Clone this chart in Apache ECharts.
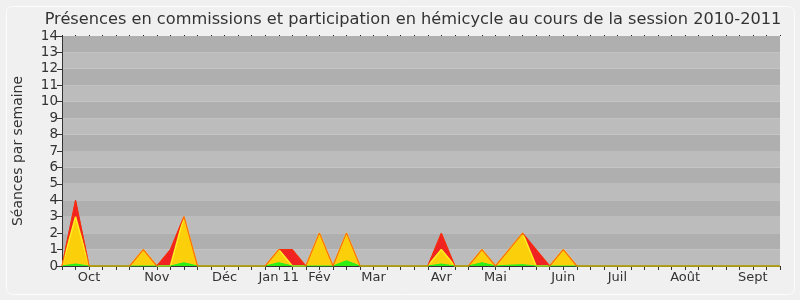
<!DOCTYPE html>
<html>
<head>
<meta charset="utf-8">
<script src="https://cdn.jsdelivr.net/npm/echarts@6/dist/echarts.min.js"></script>
<style>
html,body{margin:0;padding:0;background:#f0f0f0;}
#c{width:800px;height:300px;}
</style>
</head>
<body>
<div id="c"></div>
<script>
// Weekly values, session 2010-2011 (54 weeks)
const monthLabels = {2:'Oct',7:'Nov',12:'Déc',16:'Jan 11',19:'Fév',23:'Mar',28:'Avr',32:'Mai',37:'Juin',41:'Juil',46:'Août',51:'Sept'};
const weeks = Array.from({length:54}, (_, i) => monthLabels[i] || '');
const totalSeances = [0,4,0,0,0,0,1,0,1,3, 0,0,0,0,0,0,1,1,0,2, 0,2,0,0,0,0,0,0,2,0, 0,1,0,1,2,1,0,1,0,0, 0,0,0,0,0,0,0,0,0,0, 0,0,0,0];
const hemicycle    = [0,3,0,0,0,0,1,0,0,3, 0,0,0,0,0,0,1,0,0,2, 0,2,0,0,0,0,0,0,1,0, 0,1,0,1,2,0,0,1,0,0, 0,0,0,0,0,0,0,0,0,0, 0,0,0,0];
const commissions  = [0,0.12,0,0,0,0,0,0,0,0.2, 0,0,0,0,0,0,0.2,0,0,0, 0,0.32,0,0,0,0,0,0,0.12,0, 0,0.2,0,0.05,0.08,0,0,0,0,0, 0,0,0,0,0,0,0,0,0,0, 0,0,0,0];
const yTicks = [0,1,2,3,4,5,6,7,8,9,10,11,12,13,14];

const font = 'DejaVu Sans';
const chart = echarts.init(document.getElementById('c'), null, {renderer:'canvas'});
chart.setOption({
  animation: false,
  backgroundColor: '#f0f0f0',
  graphic: [{
    type: 'rect', z: -10, silent: true,
    shape: {x: 6.5, y: 6.5, width: 788, height: 288, r: 6},
    style: {fill: '#f0f0f0', stroke: '#fcfcfc', lineWidth: 1}
  }],
  title: {
    text: 'Présences en commissions et participation en hémicycle au cours de la session 2010-2011',
    left: 408, textAlign: 'center', top: 7,
    textStyle: {fontFamily: font, fontSize: 16.2, fontWeight: 'normal', color: '#333'}
  },
  grid: {left: 62, right: 20, top: 36, bottom: 34},
  xAxis: [{
    type: 'category', data: weeks, boundaryGap: false,
    axisLine: {show: true, lineStyle: {color: '#333'}},
    axisTick: {show: true, interval: 0, length: 4, lineStyle: {color: '#333'}},
    axisLabel: {interval: 0, margin: 5, fontFamily: font, fontSize: 13, color: '#333'},
    splitLine: {show: false}
  }, {
    type: 'category', data: weeks, boundaryGap: false, position: 'top',
    axisLine: {show: false},
    axisTick: {show: true, interval: 0, length: 1, lineStyle: {color: '#222'}},
    axisLabel: {show: false}
  }],
  yAxis: {
    type: 'value', min: 0, max: 14, interval: 1,
    name: 'Séances par semaine', nameLocation: 'middle', nameGap: 37,
    nameTextStyle: {fontFamily: font, fontSize: 14, color: '#333'},
    axisLine: {show: true, lineStyle: {color: '#333'}},
    axisTick: {show: true, length: 5, lineStyle: {color: '#333'}},
    axisLabel: {margin: 4, fontFamily: font, fontSize: 13.5, color: '#333',
      formatter: v => yTicks.includes(v) ? String(v) : ''},
    splitLine: {show: false},
    splitArea: {show: true, areaStyle: {color: ['#bcbcbc', '#afafaf']}}
  },
  series: [
    {
      name: 'Total', type: 'line', data: totalSeances, symbol: 'none',
      lineStyle: {color: '#f01e1e', width: 1}, areaStyle: {color: '#f02222', opacity: 1}, z: 2
    },
    {
      name: 'Hémicycle', type: 'line', data: hemicycle, symbol: 'none',
      lineStyle: {color: '#ffee22', width: 1.5}, areaStyle: {color: '#fccf0b', opacity: 1}, z: 3
    },
    {
      name: 'Commissions', type: 'line', data: commissions, symbol: 'none',
      lineStyle: {color: '#22ee22', width: 1}, areaStyle: {color: '#33ee11', opacity: 1}, z: 4
    },
    {
      name: 'TotalLine', type: 'line', data: totalSeances, symbol: 'none',
      lineStyle: {color: '#ff3300', width: 1.2, opacity: 0.7}, z: 5
    }
  ]
});
</script>
</body>
</html>
